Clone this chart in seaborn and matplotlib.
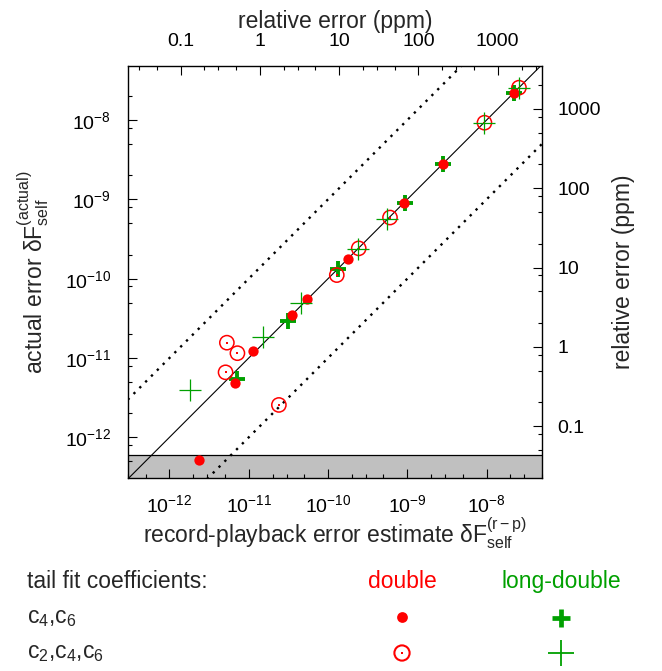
import numpy as np
import seaborn as sns
import matplotlib.pyplot as plt
from matplotlib.ticker import LogLocator, NullFormatter, FixedLocator

# record-playback estimate (x) and actual error (y)
# double precision, tail fit c4,c6
dbl_c46_est = [2.34e-12, 6.7e-12, 1.12e-11, 3.5e-11, 5.5e-11, 1.80e-10, 9.2e-10, 2.8e-9, 2.2e-8]
dbl_c46_act = [5.2e-13, 4.8e-12, 1.22e-11, 3.5e-11, 5.6e-11, 1.77e-10, 9.1e-10, 2.8e-9, 2.17e-8]
# long-double, tail fit c4,c6
ld_c46_est = [7.1e-12, 3.1e-11, 1.35e-10, 9.3e-10, 2.8e-9, 2.2e-8]
ld_c46_act = [5.5e-12, 2.9e-11, 1.31e-10, 9.1e-10, 2.8e-9, 2.17e-8]
# double precision, tail fit c2,c4,c6
dbl_c246_est = [5.3e-12, 7.2e-12, 5.1e-12, 2.4e-11, 1.29e-10, 2.44e-10, 6.05e-10, 9.4e-9, 2.56e-8]
dbl_c246_act = [1.56e-11, 1.15e-11, 6.6e-12, 2.56e-12, 1.11e-10, 2.41e-10, 5.9e-10, 9.25e-9, 2.56e-8]
# long-double, tail fit c2,c4,c6
ld_c246_est = [1.82e-12, 1.53e-11, 4.6e-11, 2.4e-10, 5.6e-10, 9.4e-9, 2.6e-8]
ld_c246_act = [4.0e-12, 1.82e-11, 4.9e-11, 2.4e-10, 5.6e-10, 9.3e-9, 2.56e-8]

# floor of the actual error (gray band) and self-force scale for ppm axes
noise_floor = 6.0e-13
F_REF = 1.38e-5
err_ticks = [1e-12, 1e-11, 1e-10, 1e-9, 1e-8]
ppm_ticks = [0.1, 1, 10, 100, 1000]
ppm_labels = ['0.1', '1', '10', '100', '1000']

RED = '#ff0000'
GREEN = '#00a000'
TICK_FS = 14
LABEL_FS = 16.5

sns.set_theme(style='ticks')
plt.rcParams['font.family'] = ['Liberation Sans', 'DejaVu Sans']
plt.rcParams['mathtext.fontset'] = 'custom'
plt.rcParams['mathtext.rm'] = 'Liberation Sans'
plt.rcParams['mathtext.it'] = 'Liberation Sans:italic'
plt.rcParams['mathtext.default'] = 'regular'

fig = plt.figure(figsize=(6.62, 6.71), dpi=100)
ax = fig.add_axes([128 / 662, 193 / 671, 414 / 662, 412 / 671])
ax.set_xscale('log')
ax.set_yscale('log')
ax.set_xlim(3.0e-13, 5.0e-8)
ax.set_ylim(3.07e-13, 4.8e-8)

# gray band below the floor
ax.axhspan(1e-15, noise_floor, color='#c0c0c0', zorder=0.5, lw=0)
ax.axhline(noise_floor, color='black', lw=0.9, zorder=0.6)

# y = x and factor-of-ten guides
ref = np.array([1e-14, 1e-6])
ax.plot(ref, ref, color='black', lw=0.8, zorder=1)
ax.plot(ref, 10 * ref, color='black', lw=1.7, ls=(0, (1, 2.5)), zorder=1)
ax.plot(ref, ref / 10, color='black', lw=1.7, ls=(0, (1, 2.5)), zorder=1)

# data
sns.scatterplot(x=ld_c46_est, y=ld_c46_act, ax=ax, marker='+', s=125,
                color=GREEN, linewidth=2.8, zorder=3)
sns.scatterplot(x=dbl_c46_est, y=dbl_c46_act, ax=ax, marker='o', s=55,
                color=RED, edgecolor=RED, linewidth=0, zorder=4)
sns.scatterplot(x=dbl_c246_est, y=dbl_c246_act, ax=ax, marker='o', s=105,
                facecolor='none', edgecolor=RED, linewidth=1.1, zorder=5)
sns.scatterplot(x=dbl_c246_est, y=dbl_c246_act, ax=ax, marker='s', s=1.2,
                color=RED, edgecolor=RED, linewidth=0, zorder=5)
sns.scatterplot(x=ld_c246_est, y=ld_c246_act, ax=ax, marker='+', s=266,
                color=GREEN, linewidth=0.9, zorder=6)

# main axes ticks
ax.set_xticks(err_ticks)
ax.set_yticks(err_ticks)
ax.xaxis.set_minor_locator(LogLocator(base=10, subs=(2, 3, 5), numticks=20))
ax.yaxis.set_minor_locator(LogLocator(base=10, subs=(2, 5, 8), numticks=20))
ax.xaxis.set_minor_formatter(NullFormatter())
ax.yaxis.set_minor_formatter(NullFormatter())
ax.tick_params(which='both', direction='in', width=0.8, labelsize=TICK_FS,
               colors='black', top=False, right=False)
ax.tick_params(which='major', length=6.5)
ax.tick_params(which='minor', length=3.2)
ax.tick_params(axis='x', pad=12)
ax.tick_params(axis='y', pad=12)
for sp in ax.spines.values():
    sp.set_linewidth(1.0)
    sp.set_color('black')

ax.set_xlabel(r'record-playback error estimate δ$F_{self}^{(r-p)}$',
              fontsize=LABEL_FS, labelpad=-1)
ax.set_ylabel(r'actual error δ$F_{self}^{(actual)}$', fontsize=LABEL_FS,
              labelpad=10)


def to_ppm(f):
    return np.asarray(f) / F_REF * 1e6


def from_ppm(p):
    return np.asarray(p) * F_REF / 1e6


decades = [0.01, 0.1, 1, 10, 100, 1000]
top = ax.secondary_xaxis('top', functions=(to_ppm, from_ppm))
top.set_xticks(ppm_ticks, labels=ppm_labels)
top.xaxis.set_minor_locator(FixedLocator([d * m for d in decades for m in (2, 3, 5)]))
top.xaxis.set_minor_formatter(NullFormatter())
top.set_xlabel('relative error (ppm)', fontsize=LABEL_FS, labelpad=3.5)

right = ax.secondary_yaxis('right', functions=(to_ppm, from_ppm))
right.set_yticks(ppm_ticks, labels=ppm_labels)
right.yaxis.set_minor_locator(FixedLocator([d * m for d in decades for m in (2, 5, 8)]))
right.yaxis.set_minor_formatter(NullFormatter())
right.set_ylabel('relative error (ppm)', fontsize=LABEL_FS, labelpad=8)

for sec in (top, right):
    sec.tick_params(which='both', direction='in', width=0.8, labelsize=TICK_FS,
                    colors='black')
    sec.tick_params(which='major', length=6.5)
    sec.tick_params(which='minor', length=3.2)
    sec.spines[:].set_visible(False)
top.tick_params(pad=11.5)
right.tick_params(pad=11)

# legend table below the plot
leg = fig.add_axes([0, 0, 1, 1])
leg.set_xlim(0, 662)
leg.set_ylim(671, 0)
leg.axis('off')
leg.text(27, 588, 'tail fit coefficients:', fontsize=LABEL_FS, va='baseline')
leg.text(402, 588, 'double', fontsize=LABEL_FS, color=RED, ha='center', va='baseline')
leg.text(561, 588, 'long-double', fontsize=LABEL_FS, color=GREEN, ha='center',
         va='baseline')
leg.text(27, 623, r'c$_4$,c$_6$', fontsize=LABEL_FS, va='baseline')
leg.text(27, 658, r'c$_2$,c$_4$,c$_6$', fontsize=LABEL_FS, va='baseline')
leg.scatter([402], [617], marker='o', s=60, color=RED, lw=0)
leg.scatter([561], [618], marker='+', s=150, color=GREEN, lw=3.4)
leg.scatter([402], [653], marker='o', s=120, facecolor='none', edgecolor=RED, lw=1.5)
leg.scatter([402], [653], marker='s', s=2, color=RED, lw=0)
leg.scatter([561], [653], marker='+', s=340, color=GREEN, lw=1.3)

fig.savefig('out.png', dpi=100)
